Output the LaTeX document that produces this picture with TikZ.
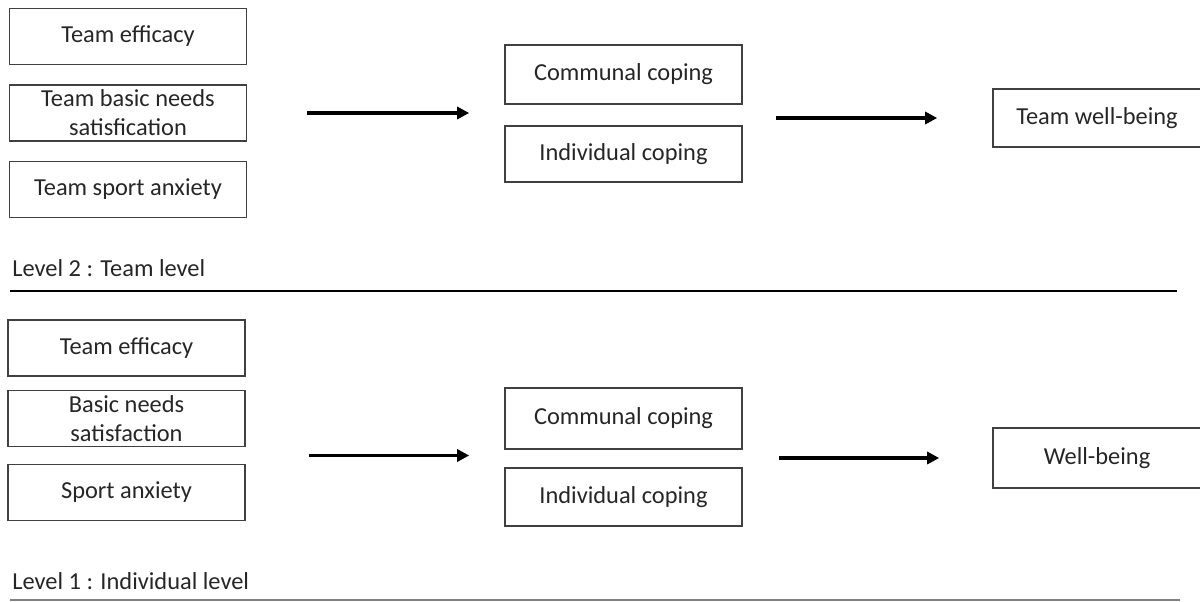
\documentclass[tikz,border=0pt]{standalone}
\usepackage{fontspec}
\setmainfont{Carlito}
\usepackage{tikz}
\usetikzlibrary{arrows.meta,calc}

\begin{document}
\begin{tikzpicture}[x=0.5pt,y=-0.5pt,
    box/.style={draw=black!75, line width=0.8pt, text=black!85, align=center,
      minimum width=118.5pt, minimum height=28pt, inner sep=1pt,
      font=\fontsize{12.2}{14.5}\selectfont},
    flow/.style={-{Triangle[length=6pt,width=6pt]}, line width=1.7pt},
    lvl/.style={anchor=base west, inner sep=0pt, text=black!85,
      font=\fontsize{12.2}{14.5}\selectfont}]
    \useasboundingbox (0,0) rectangle (1200,601) ;

    % level 2
    \node [box] (tte) at (128,36.5) {Team efficacy} ;
    \node [box] (tbn) at (128,113) {Team basic needs\\satisfication} ;
    \node [box] (tsa) at (128,189.5) {Team sport anxiety} ;
    \node [box, minimum height=29.5pt] (tcc) at (623.5,74.5) {Communal coping} ;
    \node [box] (tic) at (623.5,154) {Individual coping} ;
    \node [box, minimum width=104pt, minimum height=29pt] (twb) at (1097,118) {Team well-being} ;

    \draw [flow, shorten <=30pt, shorten >=17.5pt] (tbn.east) -- (tbn.east -| tcc.west) ;
    \draw [flow, shorten <=16.5pt, shorten >=27.5pt] (twb.west -| tcc.east) -- (twb.west) ;

    \node [lvl] (tlvl) at (12,276) {Level 2 : Team level} ;
    \draw [line width=1.1pt] (10,291) -- (1177,291) ;

    % level 1
    \node [box] (bte) at (126.5,348) {Team efficacy} ;
    \node [box] (bbn) at (126.5,418.5) {Basic needs\\satisfaction} ;
    \node [box] (bsa) at (126.5,492.5) {Sport anxiety} ;
    \node [box, minimum height=30.5pt] (bcc) at (623.5,418.5) {Communal coping} ;
    \node [box, minimum height=29pt] (bic) at (623.5,497) {Individual coping} ;
    \node [box, minimum width=104pt, minimum height=30pt] (bwb) at (1097,458) {Well-being} ;

    \coordinate (bin) at ($(bcc.south west)!0.5!(bic.north west)+(0,-3)$) ;
    \draw [flow, shorten <=31.5pt, shorten >=17.5pt] (bin -| bbn.east) -- (bin) ;
    \draw [flow, shorten <=18pt, shorten >=26.5pt] (bwb.west -| bcc.east) -- (bwb.west) ;

    \node [lvl] (blvl) at (12,589) {Level 1 : Individual level} ;
    \draw [gray, line width=0.9pt] (10,600) -- (1180,600) ;

  \end{tikzpicture}
\end{document}
